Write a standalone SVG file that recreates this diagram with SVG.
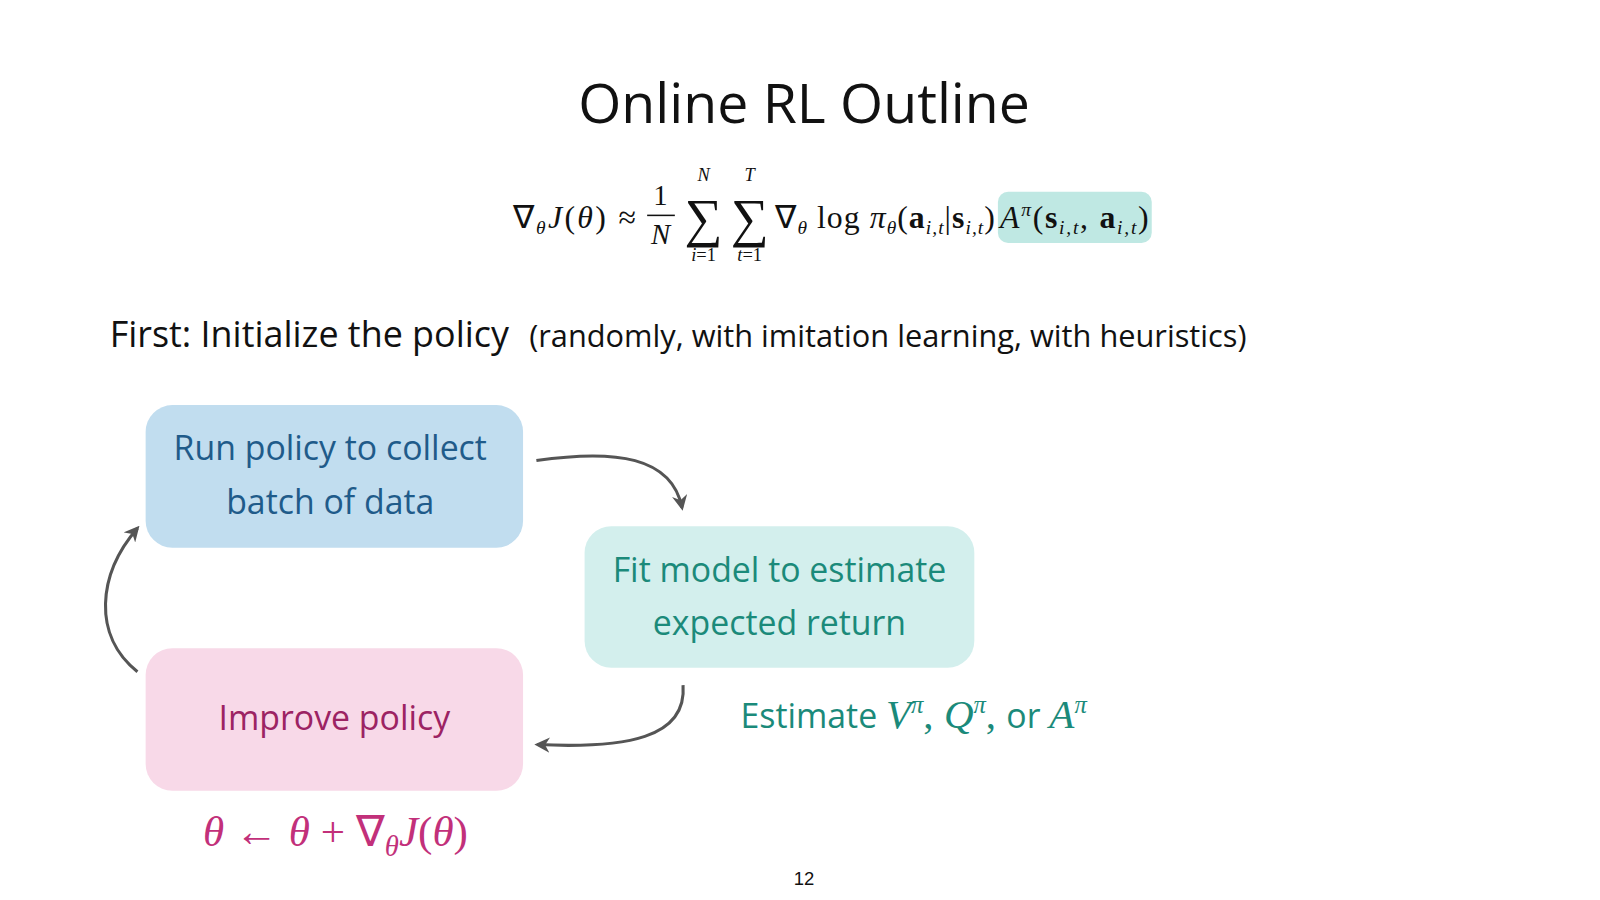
<svg xmlns="http://www.w3.org/2000/svg" width="1600" height="900" viewBox="0 0 1600 900">
<defs>
<marker id="ah" viewBox="0 0 10 10" refX="8" refY="5" markerWidth="5" markerHeight="5" orient="auto"><path d="M0,0 L10,5 L0,10 L3,5 z" fill="#555"/></marker>
<style>
.s{font-family:"Open Sans","Noto Sans",sans-serif}
.m{font-family:"Liberation Serif",serif}
.i{font-style:italic}
.b{font-weight:bold}
.c{fill:none;stroke:#555;stroke-width:3;marker-end:url(#ah)}
</style>
</defs>
<rect width="1600" height="900" fill="#fff"/>
<g transform="scale(1.0256)">
<text x="784" y="120" text-anchor="middle" class="s" font-size="54" fill="#111">Online RL Outline</text>
<g id="formula" class="m" fill="#111">
<rect x="973" y="187" width="150" height="50" rx="10" fill="#bfe8e3"/>
<text x="500" y="222" font-size="31" textLength="120" lengthAdjust="spacing">∇<tspan font-size="19" class="i" dy="6">θ</tspan><tspan dy="-6" class="i">J</tspan>(<tspan class="i">θ</tspan>) ≈</text>
<text x="644" y="200" font-size="28" text-anchor="middle">1</text>
<line x1="631" y1="210" x2="658" y2="210" stroke="#111" stroke-width="1.5"/>
<text x="644" y="238" font-size="28" text-anchor="middle" class="i">N</text>
<text x="686" y="176" font-size="18" text-anchor="middle" class="i">N</text>
<text x="686" y="230" font-size="52" text-anchor="middle">∑</text>
<text x="686" y="254" font-size="18" text-anchor="middle"><tspan class="i">i</tspan>=1</text>
<text x="731" y="176" font-size="18" text-anchor="middle" class="i">T</text>
<text x="731" y="230" font-size="52" text-anchor="middle">∑</text>
<text x="731" y="254" font-size="18" text-anchor="middle"><tspan class="i">t</tspan>=1</text>
<text x="756" y="222" font-size="31" textLength="214" lengthAdjust="spacing">∇<tspan font-size="19" class="i" dy="6">θ</tspan><tspan dy="-6"> log </tspan><tspan class="i">π</tspan><tspan font-size="19" class="i" dy="6">θ</tspan><tspan dy="-6">(</tspan><tspan class="b">a</tspan><tspan font-size="19" class="i" dy="6">i,t</tspan><tspan dy="-6">|</tspan><tspan class="b">s</tspan><tspan font-size="19" class="i" dy="6">i,t</tspan><tspan dy="-6">)</tspan></text>
<text x="975" y="222" font-size="31" textLength="145" lengthAdjust="spacing"><tspan class="i">A</tspan><tspan font-size="19" class="i" dy="-11">π</tspan><tspan dy="11">(</tspan><tspan class="b">s</tspan><tspan font-size="19" class="i" dy="6">i,t</tspan><tspan dy="-6">, </tspan><tspan class="b">a</tspan><tspan font-size="19" class="i" dy="6">i,t</tspan><tspan dy="-6">)</tspan></text>
</g>
<text x="107" y="338" class="s" font-size="35" fill="#111">First: Initialize the policy <tspan x="516" font-size="30">(randomly, with imitation learning, with heuristics)</tspan></text>
<g id="run">
<rect x="142" y="395" width="368" height="139" rx="26" fill="#c1ddef"/>
<text x="322" y="449" text-anchor="middle" class="s" font-size="33" fill="#1f5b8a">Run policy to collect</text>
<text x="322" y="501" text-anchor="middle" class="s" font-size="33" fill="#1f5b8a">batch of data</text>
</g>
<g id="fit">
<rect x="570" y="513" width="380" height="138" rx="26" fill="#d3efed"/>
<text x="760" y="567" text-anchor="middle" class="s" font-size="33" fill="#1b8a7a">Fit model to estimate</text>
<text x="760" y="619" text-anchor="middle" class="s" font-size="33" fill="#1b8a7a">expected return</text>
</g>
<g id="improve">
<rect x="142" y="632" width="368" height="139" rx="26" fill="#f8d9e8"/>
<text x="326" y="712" text-anchor="middle" class="s" font-size="33" fill="#9c2363">Improve policy</text>
</g>
<text x="722" y="710" class="s" font-size="33" fill="#1b8a7a">Estimate <tspan class="m i" font-size="40">V</tspan><tspan class="m i" font-size="24" dy="-15">π</tspan><tspan class="m" font-size="40" dy="15">, </tspan><tspan class="m i" font-size="40">Q</tspan><tspan class="m i" font-size="24" dy="-15">π</tspan><tspan class="m" font-size="40" dy="15">, </tspan>or <tspan class="m i" font-size="40">A</tspan><tspan class="m i" font-size="24" dy="-15">π</tspan></text>
<text x="198" y="825" class="m" font-size="42" fill="#c2307a"><tspan class="i">θ</tspan> ← <tspan class="i">θ</tspan> + ∇<tspan class="i" font-size="28" dy="10">θ</tspan><tspan class="i" dy="-10">J</tspan>(<tspan class="i">θ</tspan>)</text>
<text x="784" y="863" text-anchor="middle" font-family="Liberation Sans,sans-serif" font-size="18" fill="#111">12</text>
<g id="connectors">
<path class="c" d="M523,449 C600,438 655,445 665,495"/>
<path class="c" d="M666,668 C670,720 610,730 524,726"/>
<path class="c" d="M134,655 C90,620 95,560 134,515"/>
</g>
</g>
</svg>
